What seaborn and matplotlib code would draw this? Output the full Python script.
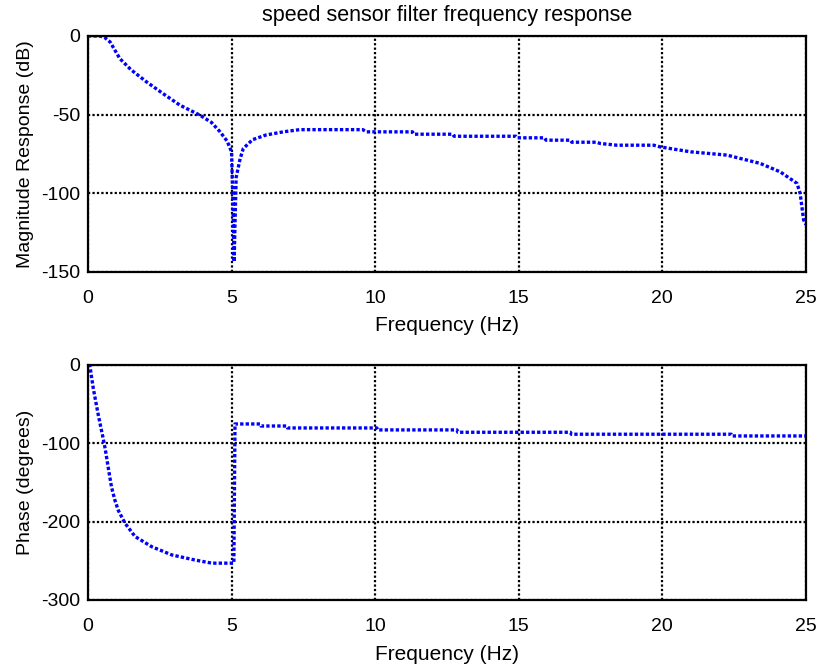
import matplotlib
matplotlib.use("Agg")
import matplotlib.pyplot as plt
import seaborn as sns
import pandas as pd

# ---- data ----
mag_freq = [0.0, 0.42, 0.6, 0.77, 1.11, 1.5, 2.04, 2.6, 3.2, 3.9, 4.3, 4.6, 4.85, 5.0,
            5.04, 5.09, 5.12, 5.16, 5.3, 5.41, 5.73, 6.2, 6.8, 7.37, 9.57, 9.7, 11.3,
            11.35, 12.7, 12.75, 14.9, 14.95, 15.9, 15.95, 16.8, 16.85, 17.7, 17.84,
            18.42, 19.7, 19.93, 20.98, 22.25, 23.41, 24.11, 24.69, 24.8, 24.92, 25.0]
mag_db = [0.0, 0.0, -1.2, -3.8, -14.4, -21.5, -29.2, -36.5, -44.0, -50.4, -55.0, -61.0, -67.0, -73.7,
          -100.0, -143.7, -120.0, -90.0, -78.0, -71.6, -66.0, -63.0, -61.0, -59.6, -59.6, -61.0, -61.0,
          -62.5, -62.5, -63.8, -63.8, -64.8, -64.8, -66.3, -66.3, -67.6, -67.6, -68.4,
          -69.5, -69.5, -70.6, -73.7, -75.8, -81.1, -86.5, -93.8, -100.2, -117.0, -120.0]

ph_freq = [0.0, 0.07, 0.185, 0.36, 0.53, 0.6, 0.71, 0.82, 0.94, 1.06, 1.29, 1.64, 2.22, 2.92, 3.73, 4.31,
           5.08, 5.12, 5.99, 6.02, 6.92, 6.95, 10.06, 10.09, 12.85, 12.88, 16.8, 16.83,
           22.4, 22.43, 25.0]
ph_deg = [0.0, -2.0, -30.0, -64.0, -94.0, -107.0, -132.0, -156.0, -173.0, -186.0, -202.0, -219.0, -232.0, -242.5, -249.0, -253.0,
          -253.0, -75.4, -75.4, -78.0, -78.0, -80.5, -80.5, -83.0, -83.0, -86.0, -86.0, -88.5,
          -88.5, -90.7, -90.7]

x_ticks = [0, 5, 10, 15, 20, 25]
mag_ticks = [0, -50, -100, -150]
ph_ticks = [0, -100, -200, -300]

title = "speed sensor filter frequency response"
xlabel = "Frequency (Hz)"
mag_label = "Magnitude Response (dB)"
ph_label = "Phase (degrees)"

# ---- styling ----
sns.set_theme(style="white")
plt.rcParams['font.family'] = ['Liberation Sans', 'DejaVu Sans']
plt.rcParams['font.size'] = 14

fig = plt.figure(figsize=(8.19, 6.64), dpi=100)
ax1 = fig.add_axes([0.1074, 0.5908, 0.8766, 0.355])
ax2 = fig.add_axes([0.1074, 0.0964, 0.8766, 0.3541])

mag_df = pd.DataFrame({"f": mag_freq, "v": mag_db})
ph_df = pd.DataFrame({"f": ph_freq, "v": ph_deg})

line_kw = dict(color=(0, 0, 1), linewidth=2.4, dashes=(1, 0.65), estimator=None,
               sort=False, legend=False, zorder=3)
sns.lineplot(data=mag_df, x="f", y="v", ax=ax1, **line_kw)
sns.lineplot(data=ph_df, x="f", y="v", ax=ax2, **line_kw)

for ax, yt, ylab in [(ax1, mag_ticks, mag_label), (ax2, ph_ticks, ph_label)]:
    ax.set_xlim(0, 25)
    ax.set_ylim(min(yt), max(yt))
    ax.set_xticks(x_ticks)
    ax.set_yticks(yt)
    ax.set_xticklabels([str(t) for t in x_ticks])
    ax.set_yticklabels([str(t) for t in yt])
    ax.grid(True, color="black", linestyle=(0, (1, 1)), linewidth=1.6)
    ax.set_axisbelow(False)
    for sp in ax.spines.values():
        sp.set_color("black")
        sp.set_linewidth(1.6)
        sp.set_zorder(4)
    ax.tick_params(axis="x", length=0, pad=13, labelsize=14, colors="black")
    ax.tick_params(axis="y", length=0, pad=5.5, labelsize=14, colors="black")
    ax.set_xlabel(xlabel, fontsize=15, color="black", labelpad=7)
    ax.set_ylabel(ylab, fontsize=14, color="black", labelpad=5)

ax1.set_title(title, fontsize=15.5, color="black", pad=11)

fig.savefig("out.png", dpi=100, facecolor="white")
